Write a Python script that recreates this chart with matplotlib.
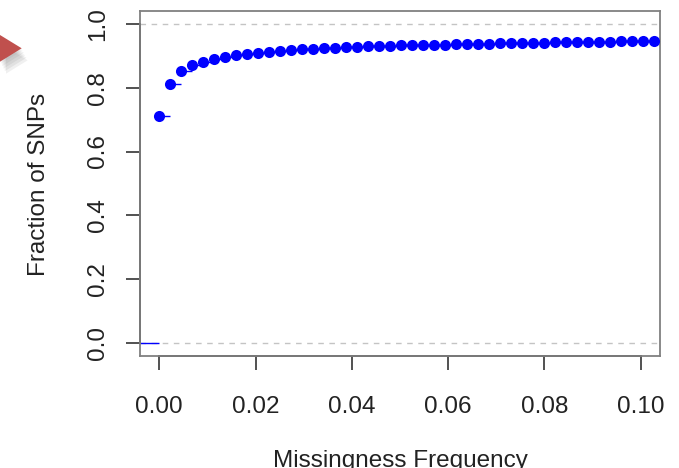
import matplotlib
matplotlib.use('Agg')
import matplotlib.pyplot as plt
import matplotlib.patches as mpatches
import matplotlib.transforms as mtransforms

plt.rcParams['font.family'] = ['Liberation Sans', 'DejaVu Sans']

# missingness frequency at each jump of the ecdf
miss_freq = [0.0, 0.00229, 0.00457, 0.00686, 0.00914, 0.01143, 0.01371, 0.01600,
             0.01828, 0.02057, 0.02285, 0.02514, 0.02742, 0.02971, 0.03199, 0.03428,
             0.03656, 0.03885, 0.04113, 0.04342, 0.04570, 0.04799, 0.05027, 0.05256,
             0.05484, 0.05713, 0.05941, 0.06170, 0.06398, 0.06627, 0.06855, 0.07084,
             0.07312, 0.07541, 0.07769, 0.07998, 0.08226, 0.08455, 0.08683, 0.08912,
             0.09140, 0.09369, 0.09597, 0.09826, 0.10054, 0.10283]
# cumulative fraction of SNPs
frac_snps = [0.710, 0.812, 0.851, 0.870, 0.881, 0.890, 0.897, 0.901, 0.905, 0.909,
             0.913, 0.916, 0.918, 0.920, 0.922, 0.924, 0.925, 0.927, 0.928, 0.929,
             0.930, 0.931, 0.932, 0.933, 0.934, 0.935, 0.935, 0.936, 0.937, 0.938,
             0.938, 0.939, 0.940, 0.941, 0.941, 0.941, 0.942, 0.942, 0.943, 0.943,
             0.944, 0.944, 0.945, 0.945, 0.946, 0.946]
x_ticks = [0.0, 0.02, 0.04, 0.06, 0.08, 0.10]
x_ticklabels = ['0.00', '0.02', '0.04', '0.06', '0.08', '0.10']
y_ticks = [0.0, 0.2, 0.4, 0.6, 0.8, 1.0]
y_ticklabels = ['0.0', '0.2', '0.4', '0.6', '0.8', '1.0']

W, H = 679, 468
fig = plt.figure(figsize=(W / 100, H / 100), dpi=100)
ax = fig.add_axes([140 / W, 1 - 356 / H, 520 / W, 345 / H])

xmin, xmax = -0.004, 0.104
ax.set_xlim(xmin, xmax)
ax.set_ylim(-0.04, 1.04)

# reference lines at 0 and 1
for yv in (0.0, 1.0):
    ax.axhline(yv, color='#c4c4c4', lw=1.0, ls=(0, (4, 4)), zorder=1)

# step segments of the ecdf
seg_x0 = [xmin] + miss_freq
seg_x1 = miss_freq + [xmax]
seg_y = [0.0] + frac_snps
ax.hlines(seg_y, seg_x0, seg_x1, colors='#0000ff', lw=1.0, zorder=2)
ax.plot(miss_freq, frac_snps, 'o', color='#0000ff', ms=8, mec='none', zorder=3)

# box and axes in R style
for s in ax.spines.values():
    s.set_color('#808080')
    s.set_linewidth(1.3)
bx = mtransforms.blended_transform_factory(ax.transData, ax.transAxes)
ax.plot([0, 0.10], [0, 0], color='#333333', lw=1.4, transform=bx, clip_on=False)
by = mtransforms.blended_transform_factory(ax.transAxes, ax.transData)
ax.plot([0, 0], [0, 1], color='#333333', lw=1.4, transform=by, clip_on=False)

ax.set_xticks(x_ticks)
ax.set_xticklabels(x_ticklabels)
ax.set_yticks(y_ticks)
ax.set_yticklabels(y_ticklabels, rotation=90, va='center')
ax.tick_params(axis='both', length=10, width=1.2, color='#333333',
               labelsize=17.5, labelcolor='#222222')
ax.tick_params(axis='x', pad=19)
ax.tick_params(axis='y', pad=12)

fig.text(39 / W, 1 - 184 / H, 'Fraction of SNPs', rotation=90, ha='center',
         va='center', fontsize=17.5, color='#222222')
fig.text(400 / W, 1 - 467.5 / H, 'Missingness Frequency', ha='center',
         va='baseline', fontsize=17.5, color='#222222')

# arrow tip at the left edge, with a soft shadow
tri = [(0, 35), (21.7, 48.3), (0, 61.7)]
for k, a in enumerate([0.04, 0.05, 0.05, 0.06, 0.06]):
    off = 2 + 2.5 * k
    sh = [((px + off * 0.5) / W, 1 - (py + off) / H) for px, py in tri]
    fig.patches.append(mpatches.Polygon(sh, closed=True, transform=fig.transFigure,
                                        facecolor='#000000', alpha=a, edgecolor='none'))
fig.patches.append(mpatches.Polygon([(px / W, 1 - py / H) for px, py in tri], closed=True,
                                    transform=fig.transFigure, facecolor='#c0504d',
                                    edgecolor='none'))

fig.savefig('out.png', dpi=100)
